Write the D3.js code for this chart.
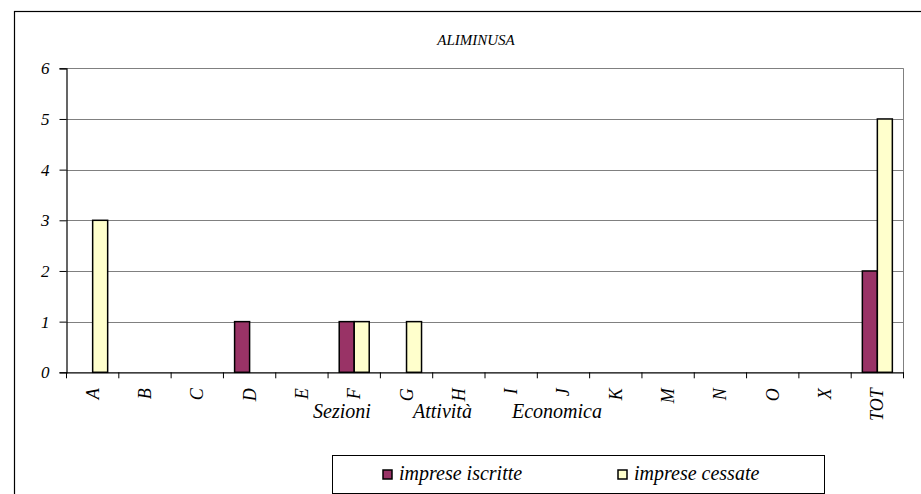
<!DOCTYPE html>
<html><head><meta charset="utf-8">
<script src="https://cdn.jsdelivr.net/npm/d3@7/dist/d3.min.js"></script>
<style>
body{margin:0;background:#fff;}
svg text{font-family:"Liberation Serif","Tinos","DejaVu Serif","Noto Serif",serif !important;font-style:italic;}
</style></head>
<body><svg id="c" width="921" height="494"></svg>
<script>
const categories = ["A","B","C","D","E","F","G","H","I","J","K","M","N","O","X","TOT"];
const iscritte = [0,0,0,1,0,1,0,0,0,0,0,0,0,0,0,2];
const cessate  = [3,0,0,0,0,1,1,0,0,0,0,0,0,0,0,5];
const seriesNames = ["imprese iscritte","imprese cessate"];
const seriesColors = ["#993366","#FFFFCC"];
const yTicks = [0,1,2,3,4,5,6];
const title = "ALIMINUSA";
const xTitleWords = ["Sezioni","Attività","Economica"];

const svg = d3.select("#c");
const L = 66.5, R = 903.5, T = 68.3, B = 372.3;

// outer border
svg.append("rect").attr("x",14.5).attr("y",11.5).attr("width",930).attr("height",500)
  .attr("fill","none").attr("stroke","#000").attr("stroke-width",1.2);

const x = d3.scaleBand().domain(categories).range([L,R]).padding(0);
const y = d3.scaleLinear().domain([0,6]).range([B,T]);

// gridlines
svg.append("g").selectAll("line").data(yTicks.filter(d=>d>0)).join("line")
  .attr("x1",L).attr("x2",R).attr("y1",d=>Math.round(y(d))+0.5).attr("y2",d=>Math.round(y(d))+0.5)
  .attr("stroke","#808080").attr("stroke-width",1);
svg.append("line").attr("x1",R).attr("x2",R).attr("y1",T).attr("y2",B)
  .attr("stroke","#808080").attr("stroke-width",1);

// bars
const bw = 15;
const g = svg.append("g");
categories.forEach((c,i)=>{
  const cx = x(c)+x.bandwidth()/2;
  [iscritte[i],cessate[i]].forEach((v,s)=>{
    if(v<=0) return;
    g.append("rect").attr("x",cx-bw+s*bw).attr("y",y(v)).attr("width",bw).attr("height",y(0)-y(v))
      .attr("fill",seriesColors[s]).attr("stroke","#000").attr("stroke-width",1.5);
  });
});

// y axis
const ya = d3.axisLeft(y).tickValues(yTicks).tickSize(7).tickPadding(10).tickFormat(d3.format("d"));
const yg = svg.append("g").attr("transform",`translate(${L},0)`).call(ya);
yg.select(".domain").attr("stroke","#000").attr("stroke-width",1.2);
yg.selectAll(".tick line").attr("stroke","#000");
yg.selectAll("text").attr("font-size",17).attr("fill","#000");

// x axis
const xa = d3.axisBottom(x).tickSize(0).tickFormat("");
const xg = svg.append("g").attr("transform",`translate(0,${B})`).call(xa);
xg.select(".domain").attr("stroke","#000").attr("stroke-width",1.2);
const edges = categories.map(c=>x(c)).concat([R]);
xg.selectAll(".edge").data(edges).join("line").attr("class","edge")
  .attr("x1",d=>d).attr("x2",d=>d).attr("y1",0).attr("y2",6).attr("stroke","#000");
xg.selectAll(".lab").data(categories).join("text").attr("class","lab")
  .attr("transform",d=>`translate(${x(d)+x.bandwidth()/2+6},16) rotate(-90)`)
  .attr("text-anchor","end").attr("font-size",18).attr("fill","#000").text(d=>d);

// axis title
const tx = [313, 413, 512];
svg.append("g").selectAll("text").data(xTitleWords).join("text")
  .attr("x",(d,i)=>tx[i]).attr("y",418).attr("font-size",20).text(d=>d);

// title
svg.append("text").attr("x",476).attr("y",45).attr("text-anchor","middle").attr("font-size",15).text(title);

// legend
const lg = svg.append("g");
lg.append("rect").attr("x",332.5).attr("y",455.5).attr("width",492).attr("height",38)
  .attr("fill","#fff").attr("stroke","#000").attr("stroke-width",1);
const lx = [383, 618];
seriesNames.forEach((n,i)=>{
  lg.append("rect").attr("x",lx[i]).attr("y",470).attr("width",9).attr("height",9)
    .attr("fill",seriesColors[i]).attr("stroke","#000").attr("stroke-width",1.5);
  lg.append("text").attr("x",lx[i]+16).attr("y",480).attr("font-size",20).text(n);
});
</script></body></html>
